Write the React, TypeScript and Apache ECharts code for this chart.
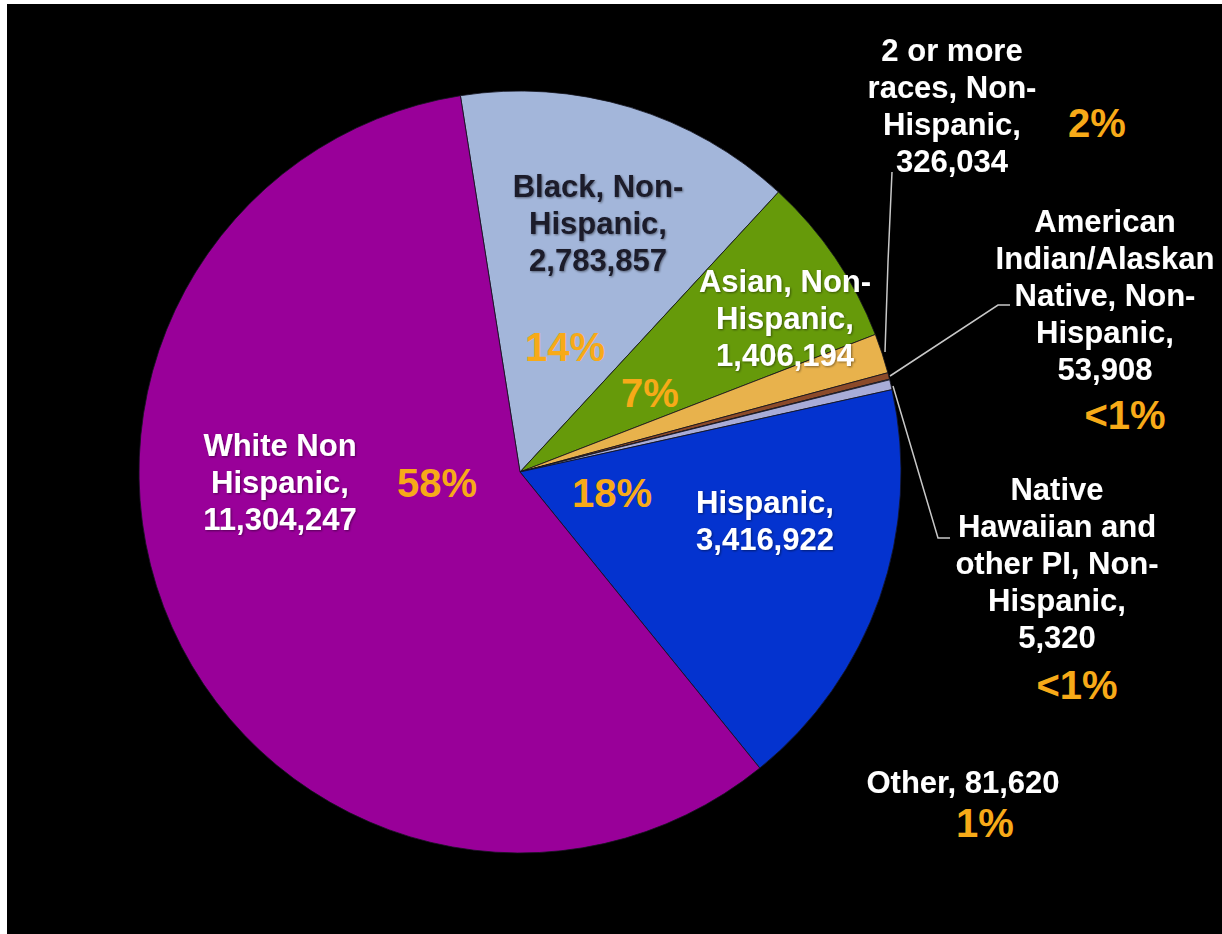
import { useEffect, useRef } from "react";
import * as echarts from "echarts";

// ---- data ----
const categories = [
  "Black, Non-\nHispanic",
  "Asian, Non-\nHispanic",
  "2 or more\nraces, Non-\nHispanic",
  "American\nIndian/Alaskan\nNative, Non-\nHispanic",
  "Native\nHawaiian and\nother PI, Non-\nHispanic",
  "Other",
  "Hispanic",
  "White Non\nHispanic",
];
const values = [2783857, 1406194, 326034, 53908, 5320, 81620, 3416922, 11304247];
const percentLabels = ["14%", "7%", "2%", "<1%", "<1%", "1%", "18%", "58%"];
const valueSeparators = [",\n", ",\n", ",\n", ",\n", ",\n", ", ", ",\n", ",\n"];

// ---- styles / layout ----
const sliceColors = ["#a3b6da", "#669a0a", "#e8b24c", "#8b4a2a", "#c8c8e8", "#a8acd8", "#0433cf", "#990099"];
const nameColors = ["#1a1a2a", "#ffffff", "#ffffff", "#ffffff", "#ffffff", "#ffffff", "#ffffff", "#ffffff"];
const PCT_COLOR = "#f7aa18";
const OX = 7;
const OY = 4;
// page coordinates (centre of each label block)
const namePos: [number, number][] = [
  [598, 223], [785, 318], [952, 106], [1105, 295], [1057, 563], [963, 782], [765, 521], [280, 482],
];
const pctPos: [number, number][] = [
  [565, 347], [650, 393], [1097, 123], [1125, 415], [1077, 685], [985, 823], [612, 493], [437, 483],
];
const leaderLines: Record<number, [number, number][]> = {
  2: [[885, 352], [888, 262], [892, 172]],
  3: [[890, 376], [998, 305], [1010, 305]],
  4: [[893, 386], [938, 538], [950, 538]],
};

export default function App() {
  const ref = useRef<HTMLDivElement>(null);
  useEffect(() => {
    if (!ref.current) return;
    document.body.style.overflow = "hidden";
    const chart = echarts.init(ref.current, undefined, { renderer: "svg" });
    const font = "'Liberation Sans', Arial, sans-serif";
    const mainData = categories.map((name, i) => ({
      name,
      value: values[i],
      itemStyle: { color: sliceColors[i] },
      label: { color: nameColors[i] },
      labelLine: { show: !!leaderLines[i] },
    }));
    const pctData = categories.map((name, i) => ({
      name,
      value: values[i],
      itemStyle: { color: "rgba(0,0,0,0)", borderWidth: 0 },
    }));
    const center = [520 - OX, 472 - OY];
    chart.setOption({
      animation: false,
      backgroundColor: "#000000",
      series: [
        {
          type: "pie",
          center,
          radius: 381,
          startAngle: 99,
          clockwise: true,
          avoidLabelOverlap: false,
          silent: true,
          itemStyle: { borderColor: "rgba(20,20,30,0.8)", borderWidth: 1 },
          label: {
            show: true,
            formatter: (p: any) =>
              p.name + valueSeparators[p.dataIndex] + values[p.dataIndex].toLocaleString("en-US"),
            fontFamily: font,
            fontWeight: "bold",
            fontSize: 31,
            lineHeight: 37,
            align: "center",
            textShadowColor: "rgba(0,0,0,0.45)",
            textShadowBlur: 2,
            textShadowOffsetX: 1,
            textShadowOffsetY: 1,
          },
          labelLine: {
            show: true,
            lineStyle: { color: "#c8c8c8", width: 1.5 },
          },
          labelLayout: (params: any) => {
            const i = params.dataIndex;
            const res: any = {
              x: namePos[i][0] - OX,
              y: namePos[i][1] - OY,
              align: "center",
              verticalAlign: "middle",
            };
            if (leaderLines[i]) {
              res.labelLinePoints = leaderLines[i].map(([x, y]) => [x - OX, y - OY]);
            }
            return res;
          },
          data: mainData,
        },
        {
          type: "pie",
          center,
          radius: 381,
          startAngle: 99,
          clockwise: true,
          avoidLabelOverlap: false,
          silent: true,
          label: {
            show: true,
            formatter: (p: any) => percentLabels[p.dataIndex],
            fontFamily: font,
            fontWeight: "bold",
            fontSize: 40,
            color: PCT_COLOR,
          },
          labelLine: { show: false },
          labelLayout: (params: any) => {
            const i = params.dataIndex;
            return {
              x: pctPos[i][0] - OX,
              y: pctPos[i][1] - OY,
              align: "center",
              verticalAlign: "middle",
            };
          },
          data: pctData,
        },
      ],
    });
    return () => chart.dispose();
  }, []);
  return (
    <div
      ref={ref}
      style={{ position: "fixed", left: OX, top: OY, width: 1222 - OX, height: 934 - OY }}
    />
  );
}
